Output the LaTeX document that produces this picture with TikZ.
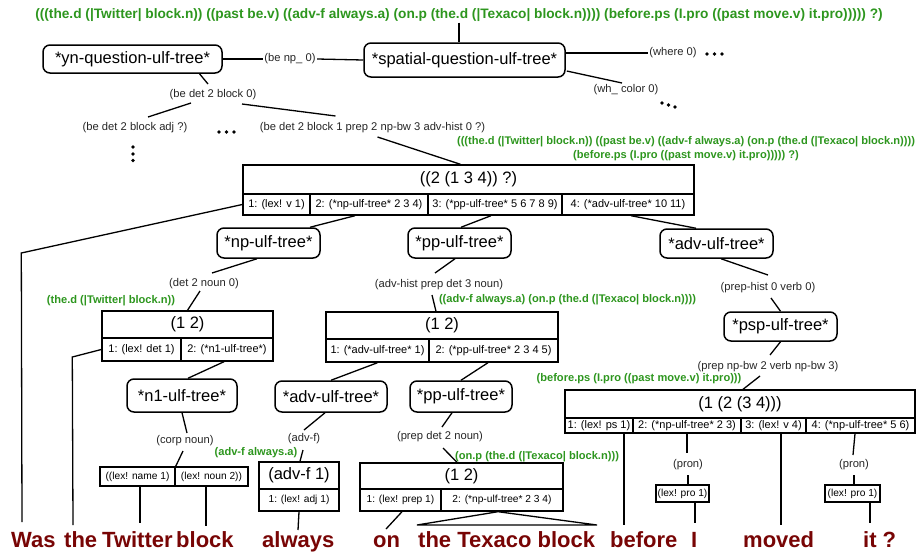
\documentclass[tikz,border=0pt]{standalone}
\usepackage{fontspec}
\setmainfont{Liberation Sans}
\usetikzlibrary{calc}
\definecolor{ulfgreen}{RGB}{45,150,30}
\definecolor{wordred}{RGB}{120,5,5}
\begin{document}
\begin{tikzpicture}[x=1pt,y=-1pt,
  ln/.style={line width=1.3pt},
  lbl/.style={font=\fontsize{11.2}{12}\selectfont, text=black!85, inner sep=1.5pt},
  gl/.style={font=\bfseries\fontsize{11.1}{13}\selectfont, text=ulfgreen, inner sep=0pt},
  gtop/.style={font=\bfseries\fontsize{13.7}{15}\selectfont, text=ulfgreen, inner sep=1pt},
  rb/.style={draw, rounded corners=7pt, line width=1.5pt, inner sep=0pt, font=\fontsize{16.5}{18}\selectfont},
  tt/.style={draw, line width=1.4pt, inner sep=0pt, font=\fontsize{16.5}{18}\selectfont},
  tc/.style={draw, line width=1.4pt, inner sep=0pt, font=\fontsize{11}{12}\selectfont},
  ts/.style={draw, line width=1.4pt, inner sep=0pt, font=\fontsize{10.2}{12}\selectfont},
  word/.style={font=\bfseries\fontsize{22}{24}\selectfont, text=wordred, inner sep=0pt, anchor=base west},
  dot/.style={fill=black, circle, inner sep=0pt, minimum size=3.8pt}
]
\useasboundingbox (0,0) rectangle (918,555);

% ---------- top ----------
\node[gtop] (top) at (459,15) {(((the.d (|Twitter| block.n)) ((past be.v) ((adv-f always.a) (on.p (the.d (|Texaco| block.n)))) (before.ps (I.pro ((past move.v) it.pro))))) ?)};

\node[rb, minimum width=179, minimum height=28] (yn) at (132.5,59) {*yn-question-ulf-tree*};
\node[rb, minimum width=201, minimum height=34] (spatial) at (464.5,60) {*spatial-question-ulf-tree*};
\node[lbl] (beNP) at (290,59) {(be np\_ 0)};
\node[lbl] (where) at (673,53) {(where 0)};
\node[lbl] (whc) at (626,90) {(wh\_ color 0)};
\node[lbl] (bedet) at (213,95) {(be det 2 block 0)};
\node[lbl] (adjq) at (135,128) {(be det 2 block adj ?)};
\node[lbl] (long) at (372.5,128) {(be det 2 block 1 prep 2 np-bw 3 adv-hist 0 ?)};

% dots
\node[dot] (d1a) at (707,54) {}; \node[dot] (d1b) at (714.5,54) {}; \node[dot] (d1c) at (722,54) {};
\node[dot] (d2a) at (662,103) {}; \node[dot] (d2b) at (668.5,105) {}; \node[dot] (d2c) at (675,107) {};
\node[dot] (d3a) at (219,132) {}; \node[dot] (d3b) at (226.5,132) {}; \node[dot] (d3c) at (234,132) {};
\node[dot] (d4a) at (133,147) {}; \node[dot] (d4b) at (133,154) {}; \node[dot] (d4c) at (133,160.5) {};

\draw[ln] (top.south) -- (top.south |- spatial.north);
\draw[ln] (yn.east) -- (beNP.west);
\draw[ln] (beNP.east) -- (spatial.west);
\draw[ln] (spatial.east |- where.west) -- (where.west);
\draw[ln] ($(spatial.east)+(1,11)$) -- ($(whc)+(-4,-7)$);
\draw[ln] ($(yn.south)+(67,0)$) -- ($(bedet)+(-5,-11)$);
\draw[ln] ($(bedet)+(-22,8)$) -- ($(adjq)+(13,-11)$);
\draw[ln] ($(bedet)+(29,9)$) -- ($(long)+(-37,-12)$);

% ---------- big table T1 ----------
\node[gl, align=center] (g1) at (686,149) {(((the.d (|Twitter| block.n)) ((past be.v) ((adv-f always.a) (on.p (the.d (|Texaco| block.n))))\\[1pt](before.ps (I.pro ((past move.v) it.pro))))) ?)};
\node[tt, minimum width=451, minimum height=29] (T1t) at (468.5,179.5) {((2 (1 3 4)) ?)};
\node[tc, minimum width=67, minimum height=21] (T1c1) at (276.5,204.5) {1: (lex! v 1)};
\node[tc, minimum width=118, minimum height=21] (T1c2) at (369,204.5) {2: (*np-ulf-tree* 2 3 4)};
\node[tc, minimum width=134, minimum height=21] (T1c3) at (495,204.5) {3: (*pp-ulf-tree* 5 6 7 8 9)};
\node[tc, minimum width=132, minimum height=21] (T1c4) at (628,204.5) {4: (*adv-ulf-tree* 10 11)};
\draw[ln] ($(long)+(5,9)$) -- ($(T1t.north)+(-8,0)$);

\node[rb, minimum width=103, minimum height=30] (np) at (268.5,243) {*np-ulf-tree*};
\node[rb, minimum width=103, minimum height=30] (pp) at (459.5,243) {*pp-ulf-tree*};
\node[rb, minimum width=113, minimum height=29] (adv) at (716.5,243.5) {*adv-ulf-tree*};
\draw[ln] ($(T1c2.south)+(-14,0)$) -- ($(np.north)+(41.5,0)$);
\draw[ln] ($(T1c3.south)+(-4,0)$) -- ($(pp.north)+(1.5,0)$);
\draw[ln] ($(T1c4.south)+(3,0)$) -- ($(adv.north)+(-20.5,0)$);

% ---------- words ----------
\node[word] (wWas) at (11,547) {Was};
\node[word] (wThe) at (64,547) {the};
\node[word] (wTwitter) at (102,547) {Twitter};
\node[word] (wBlock) at (176,547) {block};
\node[word] (wAlways) at (262,547) {always};
\node[word] (wOn) at (373,547) {on};
\node[word] (wTexaco) at (418,547) {the Texaco block};
\node[word] (wBefore) at (610,547) {before};
\node[word] (wI) at (691,547) {I};
\node[word] (wMoved) at (743,547) {moved};
\node[word] (wIt) at (863,547) {it ?};

\coordinate (eWas) at (22,522);
\coordinate (eThe) at (73,525);
\coordinate (eTwitter) at (140,523);
\coordinate (eBlock) at (206,526);
\coordinate (eAlways) at (298,530);
\coordinate (eOn) at (386,529);
\coordinate (eTexL) at (417,525);
\coordinate (eTexR) at (597,525);
\coordinate (eBefore) at (624,525);
\coordinate (eI) at (695,523);
\coordinate (eMoved) at (781,525);
\coordinate (eIt) at (870,523);

\draw[ln] (T1c1.west) -- ++(-221,48.5) -- (eWas);

% ---------- np branch ----------
\node[lbl] (d2n) at (204,284) {(det 2 noun 0)};
\node[gl] (g2) at (111,301) {(the.d (|Twitter| block.n))};
\node[tt, minimum width=171, minimum height=27] (T2t) at (187.5,324.5) {(1 2)};
\node[tc, minimum width=79, minimum height=23] (T2c1) at (141.5,349.5) {1: (lex! det 1)};
\node[tc, minimum width=92, minimum height=23] (T2c2) at (227,349.5) {2: (*n1-ulf-tree*)};
\draw[ln] ($(np.south)+(-11.5,0)$) -- ($(d2n)+(8,-11)$);
\draw[ln] ($(d2n)+(-4,7)$) -- (T2t.north);
\draw[ln] (T2c1.west) -- ++(-29,7.5) -- (eThe);

\node[rb, minimum width=110, minimum height=33] (n1) at (182,395.5) {*n1-ulf-tree*};
\draw[ln] ($(T2c2.south)+(-3,0)$) -- ($(n1.north)+(6,0)$);
\node[lbl] (corp) at (185,441) {(corp noun)};
\node[ts, minimum width=75, minimum height=19] (T4c1) at (137.5,476.5) {((lex! name 1)};
\node[ts, minimum width=73, minimum height=19] (T4c2) at (211.5,476.5) {(lex! noun 2))};
\draw[ln] (n1.south) -- ($(corp)+(2,-8)$);
\draw[ln] ($(corp)+(-2,10)$) -- (T4c1.north east);
\draw[ln] ($(T4c1.south)+(2.5,0)$) -- (eTwitter);
\draw[ln] ($(T4c2.south)+(-5.5,0)$) -- (eBlock);

% ---------- pp branch ----------
\node[lbl] (adh) at (439,285) {(adv-hist prep det 3 noun)};
\node[gl] (g3) at (567.5,300) {((adv-f always.a) (on.p (the.d (|Texaco| block.n))))};
\node[tt, minimum width=232, minimum height=27] (T3t) at (442,325.5) {(1 2)};
\node[tc, minimum width=103, minimum height=23] (T3c1) at (377.5,350.5) {1: (*adv-ulf-tree* 1)};
\node[tc, minimum width=129, minimum height=23] (T3c2) at (493.5,350.5) {2: (*pp-ulf-tree* 2 3 4 5)};
\draw[ln] ($(pp.south)+(-4.5,0)$) -- ($(adh)+(-4,-12)$);
\draw[ln] ($(adh)+(-7,10)$) -- ($(T3t.north)+(-6,0)$);

\node[rb, minimum width=112, minimum height=31] (advL) at (331,396.5) {*adv-ulf-tree*};
\node[rb, minimum width=102, minimum height=31] (ppL) at (461,396.5) {*pp-ulf-tree*};
\draw[ln] (T3c1.south) -- (advL.north);
\draw[ln] ($(T3c2.south)+(-5.5,0)$) -- (ppL.north);

\node[lbl] (advf) at (304,439) {(adv-f)};
\node[gl] (g4) at (256,453) {(adv-f always.a)};
\node[tt, minimum width=80, minimum height=27] (T5t) at (299,475.5) {(adv-f 1)};
\node[ts, minimum width=80, minimum height=22] (T5c) at (299,500) {1: (lex! adj 1)};
\draw[ln] ($(advL.south)+(-6,0)$) -- ($(advf)+(0,-9)$);
\draw[ln] ($(advf)+(-1,11)$) -- ($(T5t.north)+(1,0)$);
\draw[ln] (T5c.south) -- (eAlways);

\node[lbl] (pd2n) at (440,437) {(prep det 2 noun)};
\node[gl] (g5) at (537,457) {(on.p (the.d (|Texaco| block.n)))};
\node[tt, minimum width=203, minimum height=26] (T6t) at (461.5,476) {(1 2)};
\node[ts, minimum width=81, minimum height=22] (T6c1) at (400.5,500) {1: (lex! prep 1)};
\node[ts, minimum width=122, minimum height=22] (T6c2) at (502,500) {2: (*np-ulf-tree* 2 3 4)};
\draw[ln] ($(ppL.south)+(-9,0)$) -- ($(pd2n)+(2,-10)$);
\draw[ln] ($(pd2n)+(3,11)$) -- ($(T6t.north)+(-4.5,0)$);
\draw[ln] ($(T6c1.south)+(1.5,0)$) -- (eOn);
\draw[ln, line join=miter] ($(T6c2.south)+(-4,0)$) -- (eTexL) -- (eTexR) -- cycle;

% ---------- adv branch ----------
\node[lbl] (phv) at (768,288) {(prep-hist 0 verb 0)};
\node[rb, minimum width=113, minimum height=29] (psp) at (780.5,326.5) {*psp-ulf-tree*};
\node[lbl] (pnv) at (768,367) {(prep np-bw 2 verb np-bw 3)};
\node[gl] (g6) at (639,379) {(before.ps (I.pro ((past move.v) it.pro)))};
\draw[ln] ($(adv.south)+(4.5,0)$) -- ($(phv)+(0,-13)$);
\draw[ln] ($(phv)+(3,10)$) -- (psp.north);
\draw[ln] (psp.south) -- ($(pnv)+(2,-12)$);

\node[tt, minimum width=350, minimum height=28] (T7t) at (740,404) {(1 (2 (3 4)))};
\node[tc, minimum width=68, minimum height=15] (T7c1) at (599,425.5) {1: (lex! ps 1)};
\node[tc, minimum width=108, minimum height=15] (T7c2) at (687,425.5) {2: (*np-ulf-tree* 2 3)};
\node[tc, minimum width=65, minimum height=15] (T7c3) at (773.5,425.5) {3: (lex! v 4)};
\node[tc, minimum width=109, minimum height=15] (T7c4) at (860.5,425.5) {4: (*np-ulf-tree* 5 6)};
\draw[ln] ($(pnv)+(-8,9)$) -- ($(T7t.north)+(3,0)$);

\node[lbl] (pron1) at (688,465) {(pron)};
\node[lbl] (pron2) at (854,465) {(pron)};
\node[ts, minimum width=53, minimum height=17] (P1) at (682.5,493.5) {(lex! pro 1)};
\node[ts, minimum width=55, minimum height=17] (P2) at (852.5,493.5) {(lex! pro 1)};

\draw[ln] ($(T7c1.south)+(25,0)$) -- (eBefore);
\draw[ln] (T7c2.south) -- ($(pron1)+(-1,-12)$);
\draw[ln] ($(pron1)+(0,10)$) -- ($(P1.north)+(5.5,0)$);
\draw[ln] ($(P1.south)+(12.5,0)$) -- (eI);
\draw[ln] ($(T7c3.south)+(7.5,0)$) -- (eMoved);
\draw[ln] ($(T7c4.south)+(-5.5,0)$) -- ($(pron2)+(-1,-10)$);
\draw[ln] ($(pron2)+(0,10)$) -- ($(P2.north)+(1.5,0)$);
\draw[ln] ($(P2.south)+(17.5,0)$) -- (eIt);
\end{tikzpicture}
\end{document}
